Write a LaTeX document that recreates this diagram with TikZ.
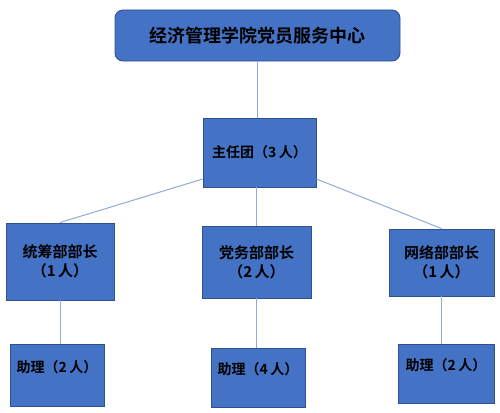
\documentclass[tikz,border=0pt]{standalone}
\usepackage{fontspec}
\newfontfamily\cjk{Noto Sans CJK SC Bold}
\definecolor{boxfill}{HTML}{4472C4}
\definecolor{boxline}{HTML}{2F528F}
\definecolor{conn}{HTML}{8FAADC}
\begin{document}
\begin{tikzpicture}[x=1pt,y=-1pt,
  box/.style={draw=boxline,fill=boxfill,line width=0.9pt,inner sep=0pt,align=center,text=black,font=\cjk},
  conline/.style={draw=conn,line width=1pt}]
\useasboundingbox (0,0) rectangle (500,412);
\node[box,rounded corners=8pt,minimum width=285pt,minimum height=51pt,font=\cjk\fontsize{18}{21}\selectfont] (top) at (257.5,35.5) {经济管理学院党员服务中心};
\node[box,minimum width=113pt,minimum height=69pt,font=\cjk\fontsize{14}{17}\selectfont] (main) at (259.5,152.5) {主任团（3\,人）};
\node[box,minimum width=108pt,minimum height=77pt,font=\cjk\fontsize{15}{19}\selectfont] (d1) at (60,261.5) {统筹部部长\\（1\,人）};
\node[box,minimum width=109pt,minimum height=72pt,font=\cjk\fontsize{15}{19}\selectfont] (d2) at (256.5,262) {党务部部长\\（2\,人）};
\node[box,minimum width=105pt,minimum height=67pt,font=\cjk\fontsize{15}{19}\selectfont] (d3) at (441.5,262.5) {网络部部长\\（1\,人）};
\node[box,minimum width=94pt,minimum height=62pt,text depth=18pt,font=\cjk\fontsize{14}{17}\selectfont] (a1) at (57,375) {助理（2\,人）};
\node[box,minimum width=94pt,minimum height=59pt,text depth=18pt,font=\cjk\fontsize{14}{17}\selectfont] (a2) at (258,377.5) {助理（4\,人）};
\node[box,minimum width=96pt,minimum height=59pt,text depth=18pt,font=\cjk\fontsize{14}{17}\selectfont] (a3) at (446,373.5) {助理（2\,人）};
\draw[conline] (top.south) -- (top.south |- main.north);
\draw[conline] (main.205) -- (d1.north);
\draw[conline] (d2.north |- main.south) -- (d2.north);
\draw[conline] (main.-25) -- (d3.north);
\draw[conline] (d1.south) -- (d1.south |- a1.north);
\draw[conline] (d2.south) -- (d2.south |- a2.north);
\draw[conline] (d3.south) -- (d3.south |- a3.north);
\end{tikzpicture}
\end{document}
